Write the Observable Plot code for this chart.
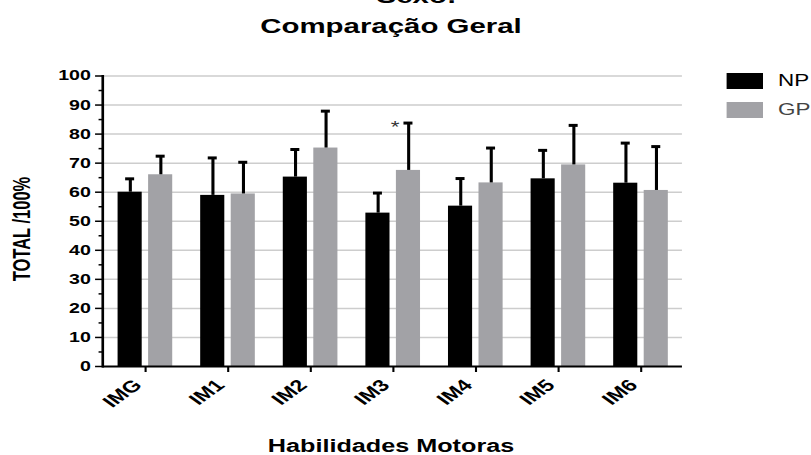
<!DOCTYPE html>
<html><head><meta charset="utf-8">
<script src="https://cdn.jsdelivr.net/npm/d3@7"></script>
<script src="https://cdn.jsdelivr.net/npm/@observablehq/plot@0.6"></script>
<style>
html,body{margin:0;padding:0;background:#fff;}
body{width:811px;height:455px;overflow:hidden;font-family:"Liberation Sans",Arial,Helvetica,sans-serif;color:#000;}
#wrap{position:relative;width:579px;height:455px;transform:scaleX(1.4);transform-origin:0 0;}
.abs{position:absolute;white-space:nowrap;}
.leg-box{position:absolute;width:25.7px;height:16px;}
.leg-txt{position:absolute;font-size:16px;line-height:16px;height:16px;}
</style></head><body>
<div id="wrap">
  <div class="abs" style="left:269px;top:-15.5px;font-size:21px;line-height:21px;font-weight:bold;">Sexo:</div>
  <div class="abs" style="left:0;width:558.6px;text-align:center;top:15.2px;font-size:21px;line-height:21px;font-weight:bold;">Comparação Geral</div>
  <div class="abs" id="chart" style="left:0;top:45px;"></div>
  <div class="abs" style="left:16.2px;top:229px;transform:translate(-50%,-50%) rotate(-90deg);font-size:16.5px;line-height:16.5px;font-weight:bold;">TOTAL /100%</div>
  <div class="abs" style="left:0;width:558.6px;text-align:center;top:436.5px;font-size:18px;line-height:18px;font-weight:bold;">Habilidades Motoras</div>
  <div id="legend"></div>
</div>
<script>
const categories = ["IMG", "IM1", "IM2", "IM3", "IM4", "IM5", "IM6"];
const series = ["NP", "GP"];
const seriesColors = ["#000000", "#a2a2a6"];
const npMean = [60.0, 58.9, 65.2, 52.8, 55.2, 64.6, 63.1];
const npSD   = [4.6, 12.9, 9.5, 6.9, 9.5, 9.8, 13.8];
const gpMean = [66.0, 59.4, 75.2, 67.5, 63.2, 69.4, 60.6];
const gpSD   = [6.4, 10.9, 12.7, 16.3, 12.0, 13.6, 15.1];
const significance = ["", "", "", "*", "", "", ""];
const yTicks = [0, 10, 20, 30, 40, 50, 60, 70, 80, 90, 100];
const yMinorTicks = [5, 15, 25, 35, 45, 55, 65, 75, 85, 95];

const rows = [];
categories.forEach((c, i) => {
  rows.push({cat: c, group: "NP", mean: npMean[i], sd: npSD[i], sig: ""});
  rows.push({cat: c, group: "GP", mean: gpMean[i], sd: gpSD[i], sig: significance[i]});
});

const W = 579, H = 410, mL = 72.9, mR = 91.9, mT = 30.5, mB = 89;
const step = (W - mL - mR) / categories.length;
const half = step / 2;
const barOff = 10.9, barHalf = 8.7, capHalf = 3.3;

const groupMarks = series.flatMap((g, k) => {
  const s = k === 0 ? -1 : 1;
  const data = rows.filter(d => d.group === g);
  return [
    Plot.barY(data, {x: "cat", y: "mean", fill: seriesColors[k],
      insetLeft: half + s * barOff - barHalf, insetRight: half - s * barOff - barHalf}),
    Plot.ruleX(data, {x: "cat", y1: "mean", y2: d => d.mean + d.sd, dx: s * barOff, stroke: "#000", strokeWidth: 2.2}),
    Plot.tickY(data, {x: "cat", y: d => d.mean + d.sd, stroke: "#000", strokeWidth: 3,
      insetLeft: half + s * barOff - capHalf, insetRight: half - s * barOff - capHalf})
  ];
});

const chart = Plot.plot({
  width: W, height: H,
  marginLeft: mL, marginRight: mR, marginTop: mT, marginBottom: mB,
  x: {domain: categories, padding: 0},
  y: {domain: [0, 100]},
  style: {fontFamily: "'Liberation Sans', Arial, Helvetica, sans-serif", fontWeight: "bold", color: "#000", background: "transparent", overflow: "visible"},
  marks: [
    Plot.ruleY(yTicks.filter(t => t > 0), {stroke: "#cdcdcd", strokeWidth: 1.5}),
    ...groupMarks,
    Plot.text(rows.filter(d => d.sig), {x: "cat", y: d => d.mean + d.sd, text: "sig", dx: 1.2, dy: 5, fontSize: 16, fill: "#333", fontWeight: "normal"}),
    Plot.frame({anchor: "left", strokeWidth: 1.9}),
    Plot.ruleY([0], {strokeWidth: 2}),
    Plot.axisY({ticks: yTicks, tickSize: 5, tickPadding: 3.5, strokeWidth: 1.5, fontSize: 14, fontWeight: "bold", label: null}),
    Plot.axisY({ticks: yMinorTicks, tickSize: 2.5, tickFormat: () => "", strokeWidth: 1.5, label: null}),
    Plot.axisX({tickSize: 6, tickFormat: () => "", strokeWidth: 1.5, label: null}),
    Plot.axisX({tickSize: 0, tickPadding: 16, dx: -5.5, tickRotate: -45, fontSize: 16.5, fontWeight: "bold", label: null})
  ]
});
document.getElementById("chart").appendChild(chart);

const legend = document.getElementById("legend");
const legTops = [73, 101.7];
const legTxtColors = ["#000", "#444"];
series.forEach((s, k) => {
  const b = document.createElement("div");
  b.className = "leg-box";
  b.style.left = "519.3px"; b.style.top = legTops[k] + "px"; b.style.background = seriesColors[k];
  legend.appendChild(b);
  const t = document.createElement("div");
  t.className = "leg-txt";
  t.style.left = "555.7px"; t.style.top = legTops[k] + "px"; t.style.color = legTxtColors[k];
  t.textContent = s;
  legend.appendChild(t);
});
</script>
</body></html>
